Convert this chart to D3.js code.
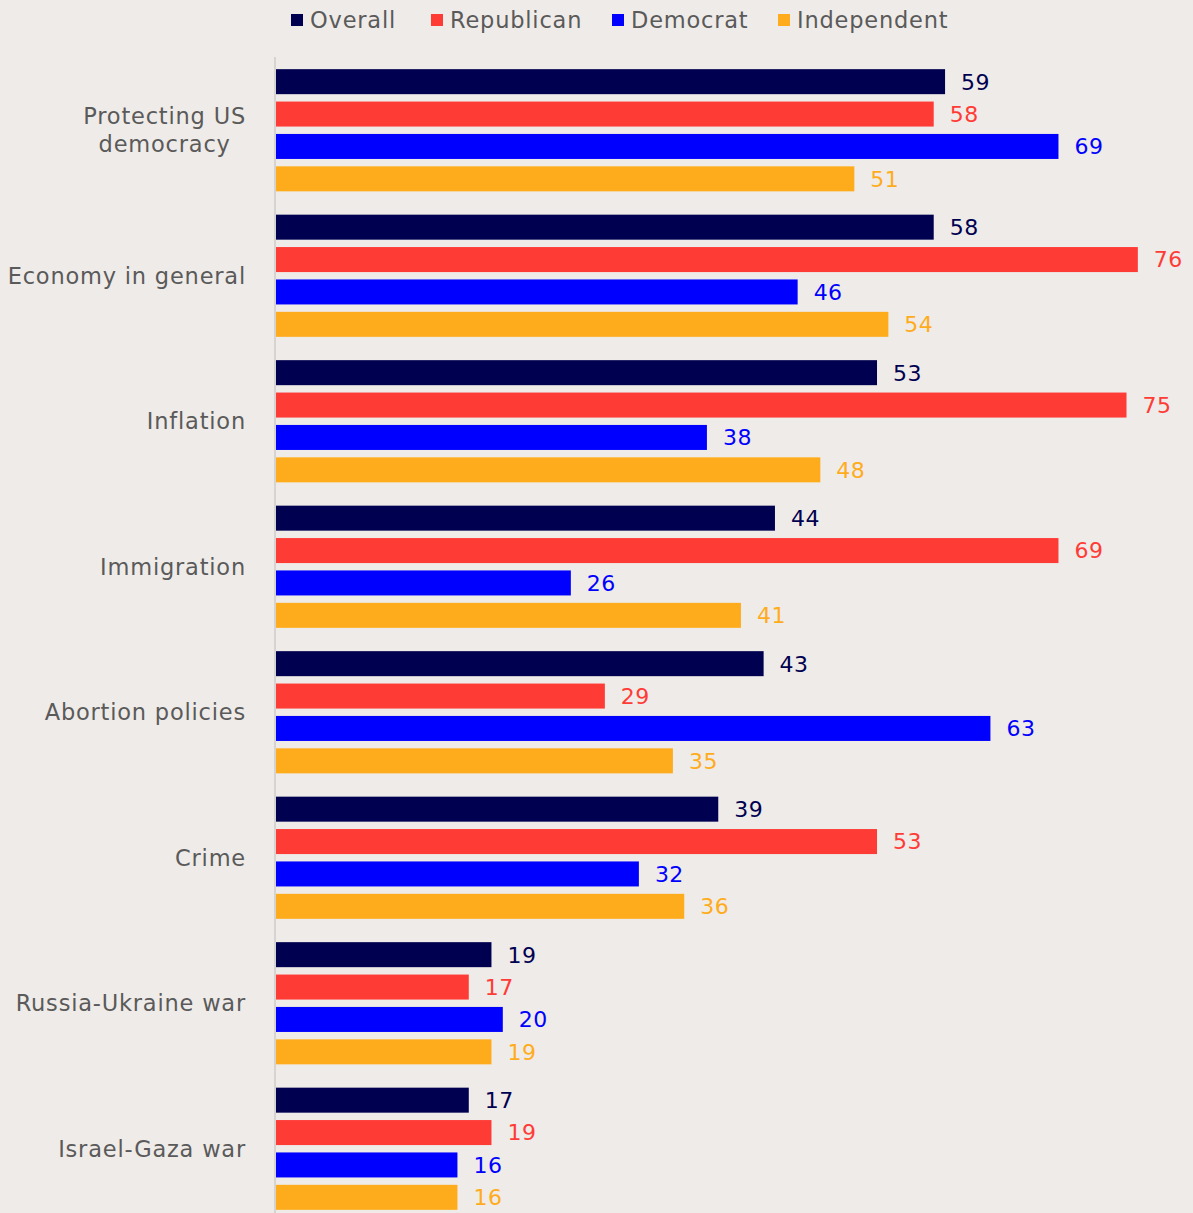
<!DOCTYPE html>
<html>
<head>
<meta charset="utf-8">
<script src="https://cdn.jsdelivr.net/npm/d3@7"></script>
<style>
  body { margin: 0; background: #efebe8; }
  svg { display: block; font-family: "DejaVu Sans", sans-serif; }
</style>
</head>
<body>
<script>
// categories and values
const categories = ["Protecting US democracy", "Economy in general", "Inflation", "Immigration",
  "Abortion policies", "Crime", "Russia-Ukraine war", "Israel-Gaza war"];
const seriesNames = ["Overall", "Republican", "Democrat", "Independent"];
const overall     = [59, 58, 53, 44, 43, 39, 19, 17];
const republican  = [58, 76, 75, 69, 29, 53, 17, 19];
const democrat    = [69, 46, 38, 26, 63, 32, 20, 16];
const independent = [51, 54, 48, 41, 35, 36, 19, 16];
const colors = ["#000050", "#ff3b36", "#0000ff", "#ffac1c"];

const W = 1193, H = 1213;
const seriesVals = [overall, republican, democrat, independent];
const rows = categories.map((c, i) => ({
  cat: c,
  vals: seriesNames.map((s, j) => ({ key: s, value: seriesVals[j][i], color: colors[j] }))
}));

const svg = d3.select("body").append("svg")
  .attr("width", W).attr("height", H);

const x = d3.scaleLinear().domain([0, 80]).range([276, 276 + 80 * 11.34]);
const y0 = d3.scaleBand().domain(categories).range([57.5, 57.5 + 8 * 145.5]);
const y1 = d3.scaleBand().domain(seriesNames).range([0, y0.bandwidth()])
  .paddingInner(0.228).paddingOuter(0.36);

// axis line
svg.append("line")
  .attr("x1", 275).attr("x2", 275)
  .attr("y1", 57).attr("y2", H)
  .attr("stroke", "#d6d3d0").attr("stroke-width", 2);

const g = svg.selectAll("g.cat").data(rows).enter().append("g")
  .attr("class", "cat")
  .attr("transform", d => "translate(0," + y0(d.cat) + ")");

g.selectAll("rect").data(d => d.vals).enter().append("rect")
  .attr("x", x(0))
  .attr("y", d => y1(d.key))
  .attr("width", d => x(d.value) - x(0))
  .attr("height", y1.bandwidth())
  .attr("fill", d => d.color);

g.selectAll("text.val").data(d => d.vals).enter().append("text")
  .attr("class", "val")
  .attr("x", d => x(d.value) + 16)
  .attr("y", d => y1(d.key) + y1.bandwidth() / 2)
  .attr("dy", "0.36em")
  .attr("fill", d => d.color)
  .style("font-size", "22px")
  .style("letter-spacing", "0.5px")
  .text(d => d.value);

// category labels (wrap long ones)
g.each(function(d) {
  const words = d.cat.split(" ");
  let lines = [d.cat];
  if (d.cat.length > 20) lines = [words.slice(0, 2).join(" "), words.slice(2).join(" ")];
  const cy = y0.bandwidth() / 2;
  const t = d3.select(this).append("text")
    .attr("fill", "#5a5a5a")
    .style("font-size", "22.5px")
    .style("letter-spacing", "0.8px");
  const lh = 28;
  const spans = lines.map((l, i) => t.append("tspan")
    .attr("x", 246)
    .attr("y", cy + (i - (lines.length - 1) / 2) * lh)
    .attr("dy", "0.36em")
    .attr("text-anchor", "end")
    .text(l));
  if (lines.length > 1) {
    const widths = spans.map(s => s.node().getComputedTextLength());
    const maxW = d3.max(widths);
    spans.forEach((s, i) => s.attr("x", 246 - (maxW - widths[i]) / 2));
  }
});

// legend
const legX = [291, 431, 612, 778];
const leg = svg.selectAll("g.leg").data(seriesNames).enter().append("g")
  .attr("class", "leg")
  .attr("transform", (d, i) => "translate(" + legX[i] + ",20)");
leg.append("rect").attr("x", 0).attr("y", -6).attr("width", 12).attr("height", 12)
  .attr("fill", (d, i) => colors[i]);
leg.append("text").attr("x", 19).attr("dy", "0.36em")
  .attr("fill", "#5a5a5a").style("font-size", "22.5px")
  .style("letter-spacing", "0.8px")
  .text(d => d);
</script>
</body>
</html>
